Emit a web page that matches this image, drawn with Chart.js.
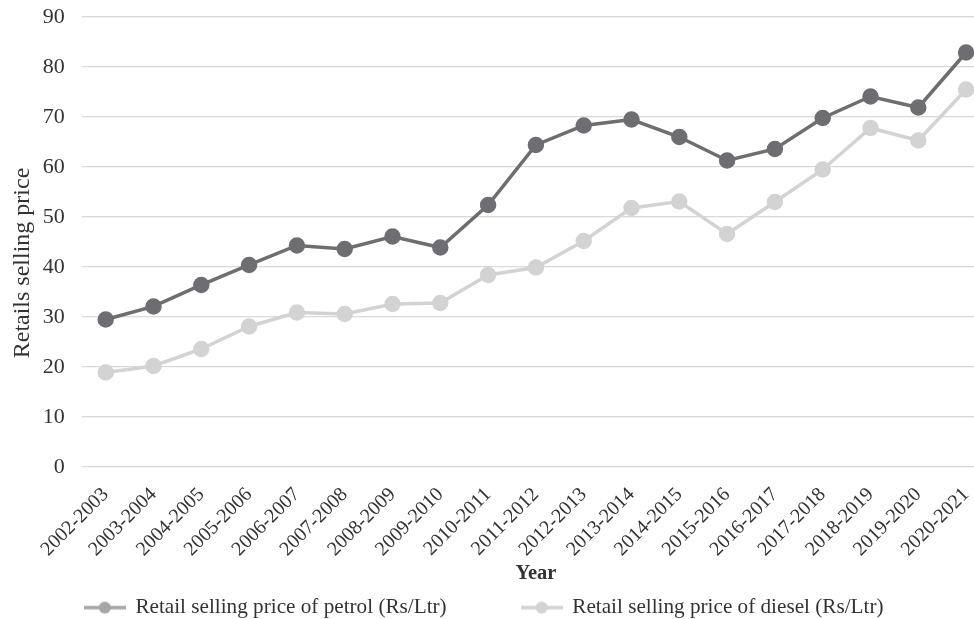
<!DOCTYPE html>
<html>
<head>
<meta charset="utf-8">
<script src="https://cdn.jsdelivr.net/npm/chart.js@4.4.0/dist/chart.umd.min.js"></script>
<style>
  html, body { margin: 0; padding: 0; background: #fff; overflow: hidden; }
  #wrap { width: 1000px; height: 619px; }
</style>
</head>
<body>
<div id="wrap"><canvas id="fuelChart" width="1000" height="619"></canvas></div>
<script>
const years = ['2002-2003', '2003-2004', '2004-2005', '2005-2006', '2006-2007', '2007-2008',
    '2008-2009', '2009-2010', '2010-2011', '2011-2012', '2012-2013', '2013-2014',
    '2014-2015', '2015-2016', '2016-2017', '2017-2018', '2018-2019', '2019-2020', '2020-2021'];

const petrol = [29.5, 32.1, 36.4, 40.4, 44.3, 43.6, 46.1, 43.9, 52.4, 64.4,
    68.3, 69.5, 66.0, 61.3, 63.6, 69.8, 74.1, 71.9, 82.9];
const diesel = [18.9, 20.2, 23.6, 28.1, 30.9, 30.6, 32.6, 32.8, 38.4, 39.9,
    45.2, 51.8, 53.1, 46.6, 53.0, 59.5, 67.8, 65.3, 75.5];

const yTicks = [0, 10, 20, 30, 40, 50, 60, 70, 80, 90];

const FONT = 'Liberation Serif';
const TEXT = '#333333';

// small line-with-dot swatch for the legend
function swatch(color) {
    const c = document.createElement('canvas');
    c.width = 42;
    c.height = 14;
    const g = c.getContext('2d');
    g.strokeStyle = color;
    g.lineWidth = 3.5;
    g.beginPath();
    g.moveTo(0, 7);
    g.lineTo(42, 7);
    g.stroke();
    g.fillStyle = color;
    g.beginPath();
    g.arc(21, 7, 6, 0, Math.PI * 2);
    g.fill();
    return c;
}

// legend items sit under the plot with a wide gap between them;
// the legend box is sized with a small padding, the gap is applied when drawing
const legendGap = {
    id: 'legendGap',
    beforeDraw(chart) {
        const lg = chart.legend;
        const gap = 75;
        lg.options.labels.padding = gap;
        lg.left = chart.chartArea.left + 3 - gap;
        lg.top = 597 - gap;
    }
};

const ctx = document.getElementById('fuelChart').getContext('2d');
new Chart(ctx, {
    type: 'line',
    data: {
        labels: years,
        datasets: [{
            label: 'Retail selling price of petrol (Rs/Ltr)',
            data: petrol,
            borderColor: '#6e6e72',
            backgroundColor: '#6e6e72',
            borderWidth: 3.5,
            pointRadius: 6.5,
            pointHoverRadius: 6.5,
            tension: 0,
            legendSwatch: '#a6a6a6'
        }, {
            label: 'Retail selling price of diesel (Rs/Ltr)',
            data: diesel,
            borderColor: '#d3d3d3',
            backgroundColor: '#d3d3d3',
            borderWidth: 3.5,
            pointRadius: 6.5,
            pointHoverRadius: 6.5,
            tension: 0,
            legendSwatch: '#d3d3d3'
        }]
    },
    options: {
        responsive: false,
        animation: false,
        layout: { padding: 0 },
        scales: {
            x: {
                offset: true,
                afterFit: axis => {
                    axis.height -= 12;
                    axis.paddingRight = 6;
                },
                grid: { display: false },
                border: { display: false },
                ticks: {
                    color: TEXT,
                    font: { family: FONT, size: 20 },
                    minRotation: 45,
                    maxRotation: 45,
                    autoSkip: false,
                    padding: 8
                },
                title: {
                    display: true,
                    text: 'Year',
                    color: TEXT,
                    font: { family: FONT, size: 20.5, weight: 'bold' },
                    padding: { top: 4, bottom: 0 }
                }
            },
            y: {
                min: 0,
                max: 90,
                afterBuildTicks: axis => { axis.ticks = yTicks.map(v => ({ value: v })); },
                afterFit: axis => {
                    axis.width -= 11;
                    axis.paddingTop = 17;
                    axis.paddingBottom = 0;
                },
                grid: { color: '#d9d9d9', lineWidth: 1.3, drawTicks: false },
                border: { display: false },
                ticks: {
                    color: TEXT,
                    font: { family: FONT, size: 22 },
                    padding: 17
                },
                title: {
                    display: true,
                    // trailing spaces push the centred title a little below the middle
                    text: 'Retails selling price' + ' '.repeat(7),
                    color: TEXT,
                    font: { family: FONT, size: 24 },
                    padding: { top: 8, bottom: 0 }
                }
            }
        },
        plugins: {
            legend: {
                position: 'bottom',
                align: 'start',
                labels: {
                    color: TEXT,
                    font: { family: FONT, size: 21.2 },
                    usePointStyle: true,
                    pointStyleWidth: 40,
                    padding: 2,
                    generateLabels: chart => chart.data.datasets.map((ds, i) => ({
                        text: ds.label,
                        fontColor: TEXT,
                        pointStyle: swatch(ds.legendSwatch),
                        datasetIndex: i,
                        hidden: false,
                        lineWidth: 0
                    }))
                }
            },
            tooltip: { enabled: false }
        }
    },
    plugins: [legendGap]
});
</script>
</body>
</html>
